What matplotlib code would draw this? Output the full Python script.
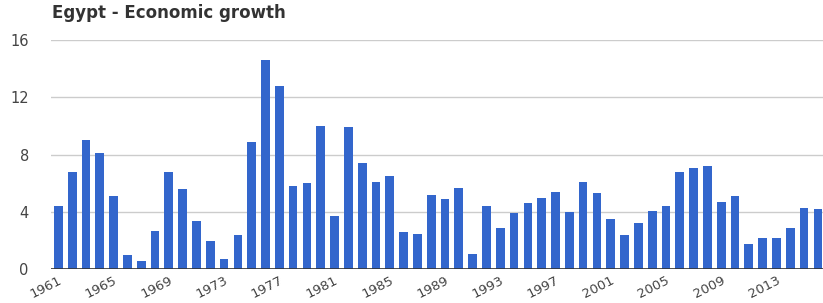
import numpy as np
import matplotlib.pyplot as plt

plt.rcParams['font.family'] = ['DejaVu Sans']

# Egypt GDP growth (%)
years = list(range(1961, 2017))
growth = [4.4, 6.8, 9.0, 8.1, 5.1, 1.0, 0.6, 2.7, 6.8, 5.6,
          3.4, 2.0, 0.7, 2.4, 8.9, 14.6, 12.8, 5.8, 6.0, 10.0,
          3.7, 9.9, 7.4, 6.1, 6.5, 2.6, 2.5, 5.2, 4.9, 5.7,
          1.1, 4.4, 2.9, 3.9, 4.6, 5.0, 5.4, 4.0, 6.1, 5.3,
          3.5, 2.4, 3.2, 4.1, 4.4, 6.8, 7.1, 7.2, 4.7, 5.1,
          1.8, 2.2, 2.2, 2.9, 4.3, 4.2]
tick_years = list(range(1961, 2014, 4))
y_ticks = [0, 4, 8, 12, 16]

fig = plt.figure(figsize=(8.23, 3.03), dpi=100)
ax = fig.add_axes([0.062, 0.111, 0.938, 0.757])

ax.bar(years, growth, width=0.63, color='#3366cc', zorder=2)

ax.set_xlim(1960.47, 2016.37)
ax.set_ylim(0, 16)
ax.set_yticks(y_ticks)
ax.set_yticklabels([str(v) for v in y_ticks])
ax.set_xticks(tick_years)
ax.set_xticklabels([str(y) for y in tick_years], rotation=27, ha='right',
                   rotation_mode='anchor')

ax.grid(axis='y', color='#cccccc', linewidth=1, zorder=0)
ax.axhline(0, color='#333333', linewidth=1.2, zorder=3)
for s in ax.spines.values():
    s.set_visible(False)
ax.tick_params(axis='both', length=0, colors='#444444')
ax.tick_params(axis='y', pad=16, labelsize=10.5)
ax.tick_params(axis='x', pad=3, labelsize=9.5)

fig.text(0.063, 0.958, 'Egypt - Economic growth', fontsize=12,
         fontweight='bold', color='#333333', ha='left', va='center')

fig.savefig('out.png', dpi=100)
